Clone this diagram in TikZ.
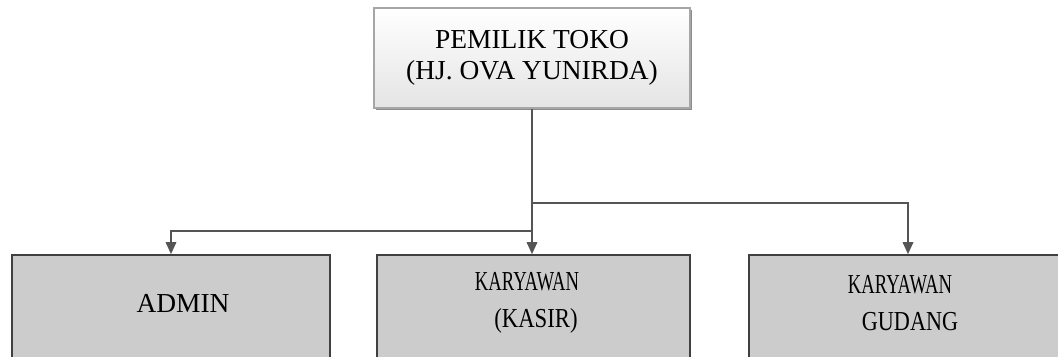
\documentclass[tikz,border=0pt]{standalone}
\usepackage{fontspec}
\setmainfont{Liberation Serif}
\usepackage{graphicx}
\usetikzlibrary{arrows.meta, shadows}

\begin{document}
\begin{tikzpicture}[
    x=0.025cm, y=-0.025cm,
    every node/.style={font=\fontsize{19.5}{22}\selectfont},
]

\definecolor{linecol}{HTML}{555555}
\definecolor{ownerfill}{HTML}{E4E4E4}
\definecolor{owneredge}{HTML}{A6A6A6}
\definecolor{stafffill}{HTML}{CCCCCC}
\definecolor{staffedge}{HTML}{404040}

% one px of the sketch = 0.025cm, y runs downwards
\tikzset{
  ownerbox/.style={draw=owneredge, line width=0.8pt, top color=white,
                   bottom color=ownerfill, align=center, inner sep=0pt,
                   minimum width=7.9cm, minimum height=2.5cm,
                   drop shadow={shadow xshift=1.2pt, shadow yshift=-1.2pt,
                                fill=black!45, opacity=1}},
  staffbox/.style={draw=staffedge, fill=stafffill, line width=1.2pt,
                   minimum height=3.125cm, inner sep=0pt},
  stafftext/.style={align=center, inner sep=0pt,
                    font=\fontsize{19.5}{26}\selectfont},
  link/.style={draw=linecol, line width=1.1pt,
               -{Triangle[length=8.5pt, width=7.5pt]}},
}
\newcommand{\squeeze}[2]{\scalebox{#1}[1]{#2}}

\useasboundingbox (0,0) rectangle (1058,356);
\fill[white] (0,0) rectangle (1058,356);
\clip (0,0) rectangle (1058,356);

% ---------------------------------------------------------------- boxes
\node[ownerbox] (owner) at (532,58) {PEMILIK TOKO\\(HJ. OVA YUNIRDA)};

\node[staffbox, minimum width=7.95cm]  (admin)  at (171,317.5) {};
\node[staffbox, minimum width=7.825cm] (kasir)  at (533.5,317.5) {};
\node[staffbox, minimum width=7.95cm]  (gudang) at (908,317.5) {};

\node[stafftext] (admintext) at (183,303) {ADMIN};
\node[stafftext] (kasirtext) at (527,303)
    {\squeeze{0.68}{KARYAWAN}\\\hspace*{0.45cm}\squeeze{0.83}{(KASIR)}};
\node[stafftext] (gudangtext) at (900,303)
    {\squeeze{0.68}{KARYAWAN}\\\hspace*{0.5cm}\squeeze{0.81}{GUDANG}};

% ---------------------------------------------------------------- links
\coordinate (forkgudang) at (owner.south |- 0,203);
\coordinate (forkadmin)  at (owner.south |- 0,231);

\draw[link] (owner.south) -- (owner.south |- kasir.north);
\draw[link] (forkadmin) -| (admin.north);
\draw[link] (forkgudang) -| (gudang.north);

\end{tikzpicture}
\end{document}
